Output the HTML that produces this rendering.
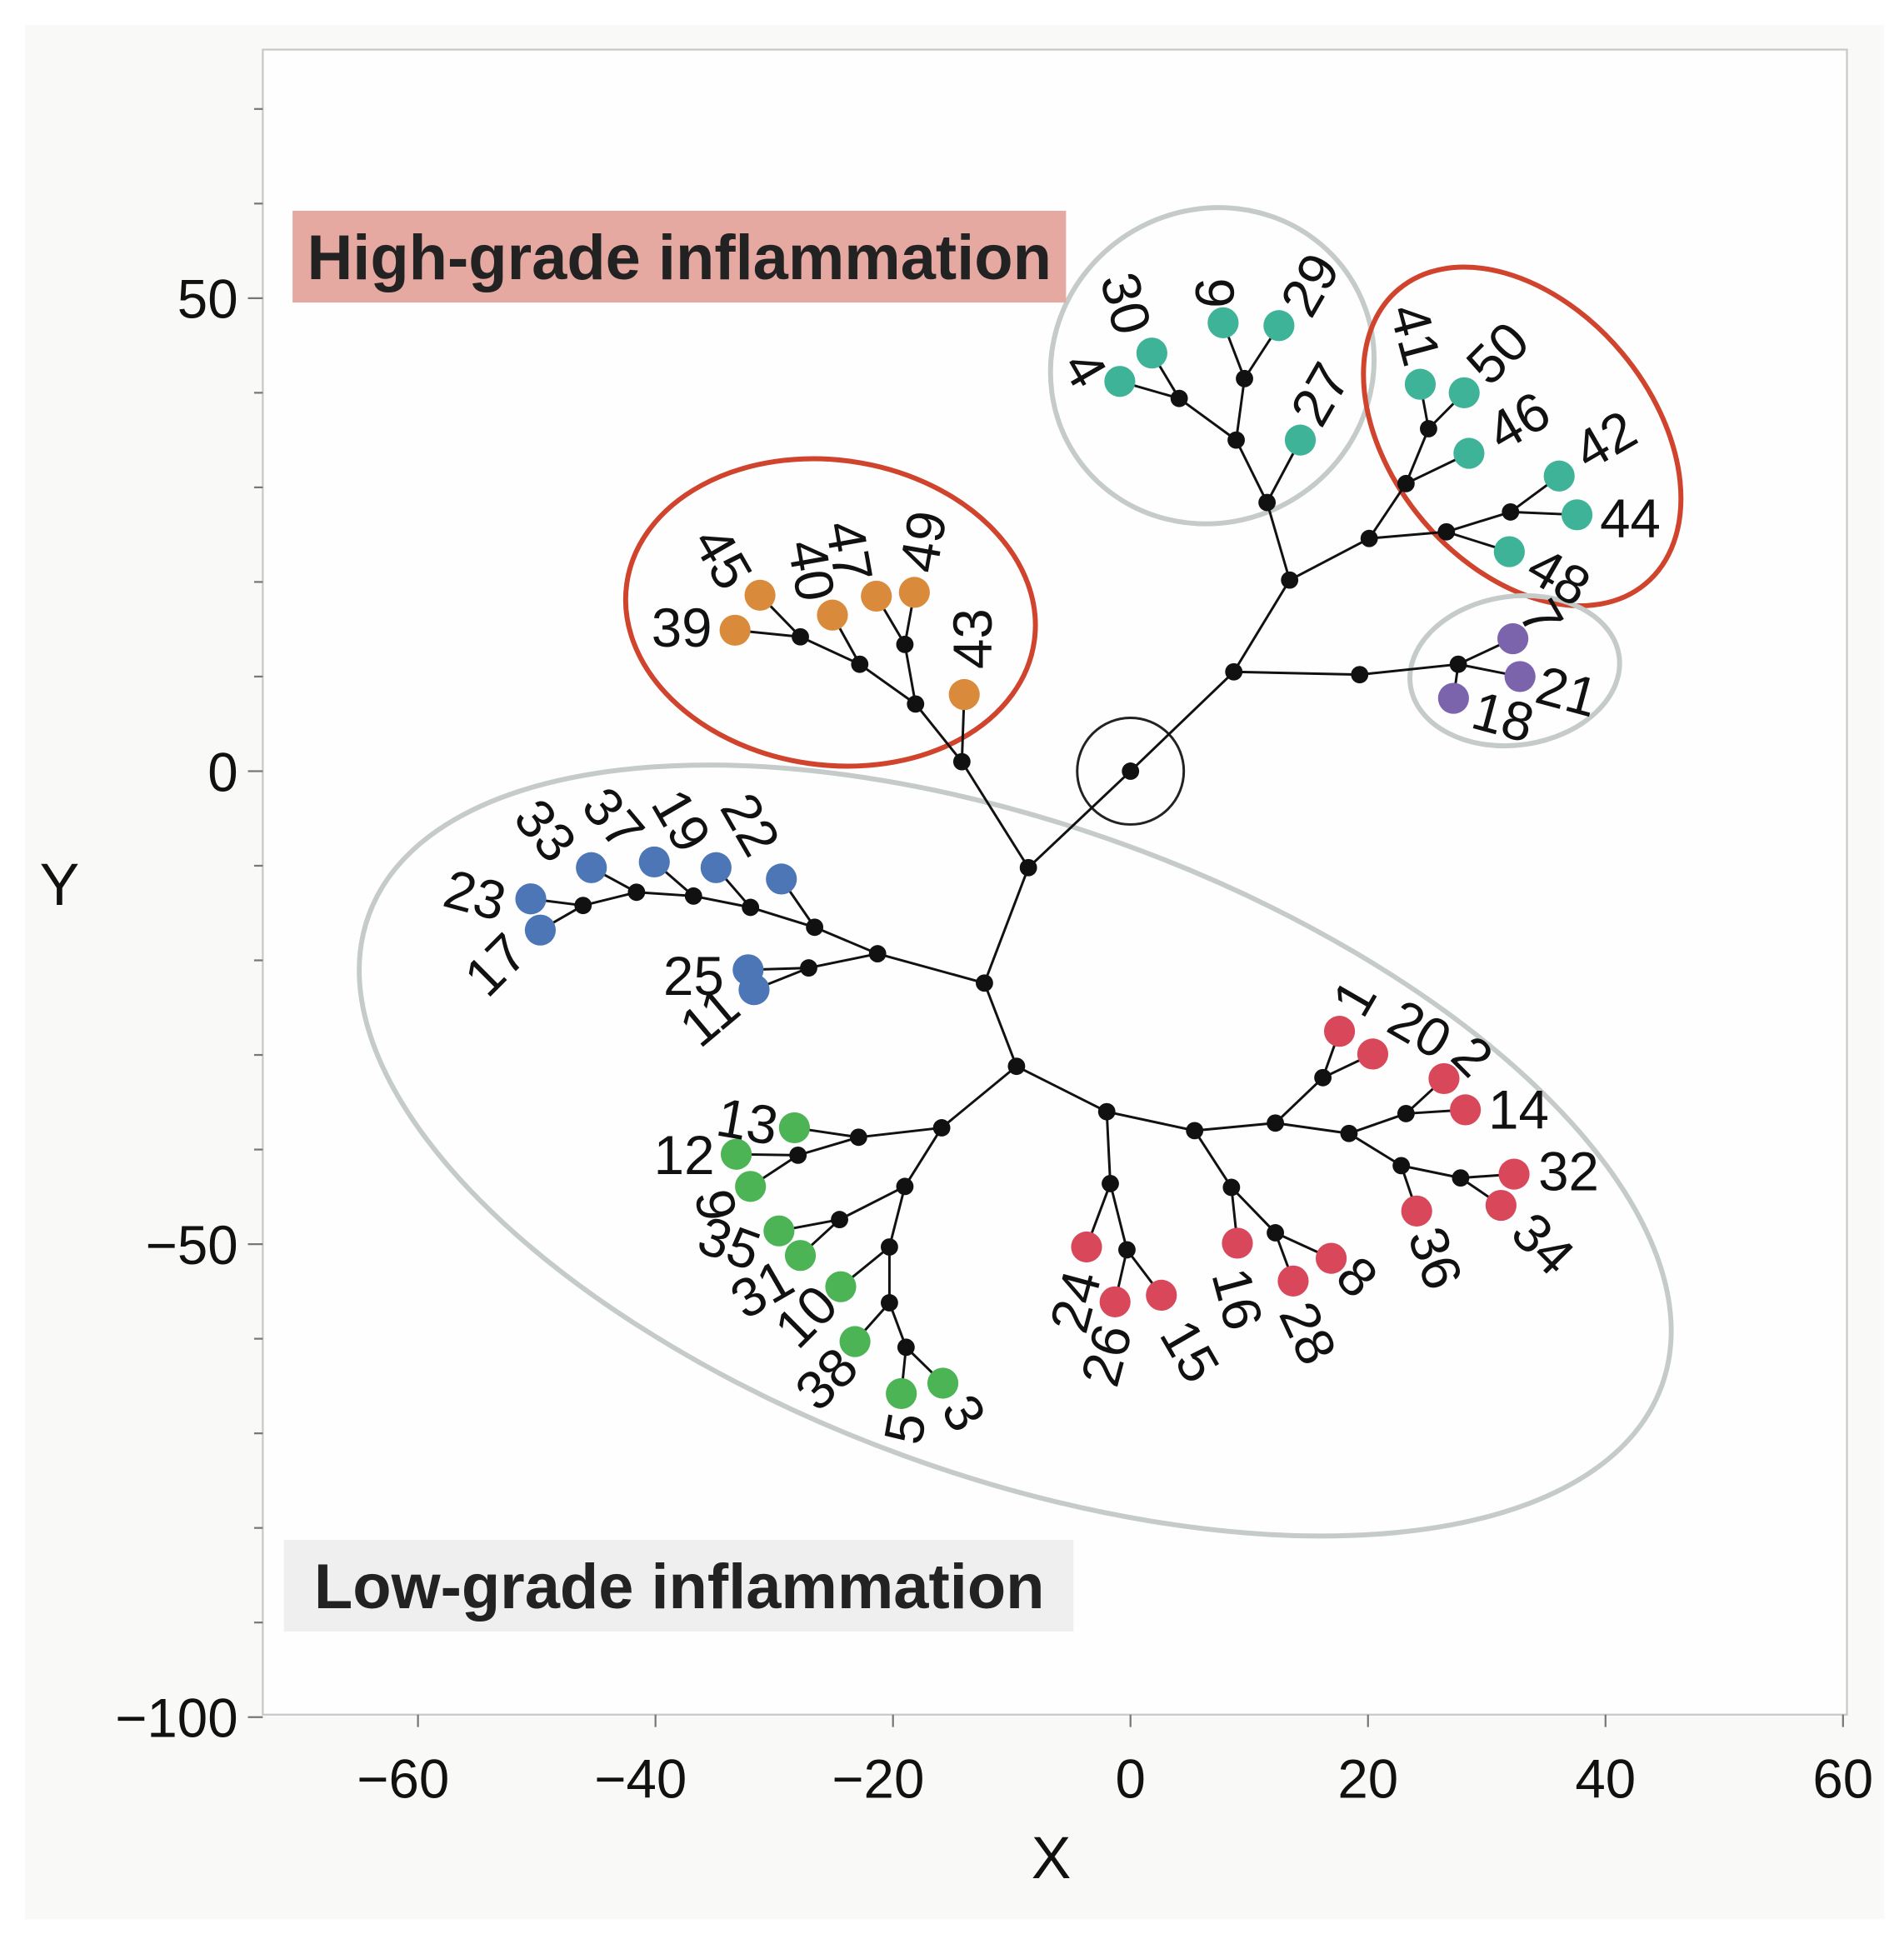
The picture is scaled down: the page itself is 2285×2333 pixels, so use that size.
<!DOCTYPE html>
<html><head><meta charset="utf-8"><style>
html,body{margin:0;padding:0;background:#fff;}
svg{display:block;}
text{font-family:"Liberation Sans",sans-serif;}
</style></head><body>
<svg id="chart" width="2285" height="2333" viewBox="0 0 1536 1568" preserveAspectRatio="none" xmlns="http://www.w3.org/2000/svg">
<rect x="20" y="20" width="1500" height="1528" fill="#f9f9f8"/>
<rect x="212" y="40" width="1278" height="1343" fill="#fefefe" stroke="#c8c8c8" stroke-width="1.5"/>
<g id="ellipses">
<ellipse cx="819" cy="928" rx="555" ry="262" transform="rotate(20 819 928)" fill="none" stroke="#c4cbc8" stroke-width="4"/>
<ellipse cx="670" cy="494" rx="166" ry="123" transform="rotate(8 670 494)" fill="none" stroke="#d0432c" stroke-width="4"/>
<ellipse cx="978" cy="295" rx="132" ry="126" transform="rotate(-30 978 295)" fill="none" stroke="#c4cbc8" stroke-width="4"/>
<ellipse cx="1228" cy="352" rx="155" ry="105" transform="rotate(50 1228 352)" fill="none" stroke="#d0432c" stroke-width="4"/>
<ellipse cx="1222" cy="541" rx="85" ry="60" transform="rotate(-8 1222 541)" fill="none" stroke="#c4cbc8" stroke-width="4"/>
<circle cx="912" cy="622" r="43" fill="none" stroke="#222" stroke-width="2"/>
</g>
<rect x="236" y="170" width="624" height="74" fill="#e5a9a1"/>
<text x="548" y="225" text-anchor="middle" font-size="51" font-weight="bold" fill="#222">High-grade inflammation</text>
<rect x="229" y="1242" width="637" height="74" fill="#efefef"/>
<text x="548" y="1297" text-anchor="middle" font-size="51" font-weight="bold" fill="#222">Low-grade inflammation</text>
<g id="axes"></g>
<g id="edges"></g>
<g id="nodes"></g>
<g id="labels"></g>
</svg>
<script>
const xTicks=[-60,-40,-20,0,20,40,60];
const yTicks=[-100,-50,0,50];
const nodeX=[0,8.7,13.4,19.3,27.6,32.2,32.8,27.2,11.5,20.1,8.9,14.3,4.1,9.6,-0.9,1.8,7.8,12.5,23.2,26.6,25.1,28.5,24.4,28.1,32.0,31.9,36.1,37.6,
-8.6,-14.2,-12.3,-18.1,-14.0,-19.0,-22.8,-21.4,-18.2,-27.8,-25.1,-33.3,-31.2,-21.3,-9.6,-26.6,-27.1,-32.2,-31.7,-29.4,-32.0,-34.9,-36.8,-40.1,-41.6,-45.4,-46.1,-50.5,-49.7,
-15.9,-2.0,-22.9,-19.0,-28.3,-28.0,-33.2,-32.0,-24.5,-20.3,-29.6,-27.8,-24.4,-20.3,-23.2,-18.9,-19.3,-15.8,
-1.7,5.4,-3.7,-0.3,-1.3,2.6,8.5,12.2,9.0,12.2,13.7,16.9,16.2,18.4,17.6,20.4,23.2,22.8,26.4,28.2,24.1,27.8,32.3,31.2];
const nodeY=[0,10.5,20.2,10.2,11.3,14.0,10.0,7.7,28.4,24.6,35.0,35.0,39.4,41.5,41.2,44.2,47.4,47.1,30.4,25.3,36.2,33.6,40.9,40.0,27.4,23.2,31.2,27.1,
-10.2,1.0,-22.4,7.1,8.1,13.4,11.3,18.5,18.9,14.2,16.5,14.9,18.6,-19.3,-31.2,-16.5,-20.8,-21.0,-23.1,-11.4,-14.4,-10.2,-13.2,-9.6,-12.8,-10.2,-14.2,-13.5,-16.8,
-37.7,-36.0,-38.7,-43.9,-37.7,-40.6,-40.5,-43.9,-47.4,-50.3,-48.6,-51.2,-54.5,-56.2,-60.3,-60.9,-65.8,-64.7,
-43.6,-38.0,-50.3,-50.6,-56.1,-55.4,-44.0,-37.2,-49.9,-48.8,-53.9,-51.5,-32.4,-38.3,-27.5,-29.9,-36.2,-41.7,-32.5,-35.8,-46.5,-43.0,-42.6,-45.9];
const nodeParent=[-1,0,1,1,3,4,4,4,2,2,8,8,10,10,12,12,13,13,9,9,18,18,20,20,19,19,24,24,
0,28,28,29,29,31,31,33,33,34,34,37,37,30,30,41,41,44,44,43,43,48,48,50,50,52,52,54,54,
42,42,57,57,59,59,62,62,60,60,65,65,66,66,70,70,72,72,
58,58,75,75,78,78,76,76,81,81,84,84,82,82,87,87,88,88,91,91,92,92,96,96];
const nodeGroup=["","","","","","p","p","p","","","","t","","","t","t","t","t","","","","t","t","t","","t","t","t",
"","","","","o","","","o","o","","o","o","o","","","","","b","b","b","","b","","b","","b","","b","b",
"","","","","g","","g","g","","","g","g","g","","g","","g","g",
"","","r","","r","r","","","r","","r","r","","","r","r","","","r","r","r","","r","r"];
const nodeLabel=["","","","","","7","21","18","","","","27","","","4","30","9","29","","","","46","41","50","","48","42","44",
"","","","","43","","","47","49","","40","39","45","","","","","25","11","22","","19","","37","","33","","23","17",
"","","","","13","","12","9","","","35","31","10","","38","","5","3",
"","","24","","26","15","","","16","","28","8","","","1","20","","","2","14","36","","32","34"];
/* label placement styling (pixel offsets / rotation) */
const labelDx=[0,0,0,0,0,23,38,40,0,0,0,16,0,0,-28,-21,-7,25,0,0,0,40,-4,27,0,40,37,43,
0,0,0,0,7,0,0,-22,7,0,-17,-43,-30,0,0,0,0,-44,-36,-25,0,-28,0,-33,0,-37,0,-45,-36,
0,0,0,0,-38,0,-42,-28,0,0,-40,-31,-28,0,-23,0,3,17,
0,0,-9,0,-7,23,0,0,0,0,12,21,0,0,12,38,0,0,23,43,15,0,44,34];
const labelDy=[0,0,0,0,0,-17,12,15,0,0,0,-37,0,0,-10,-40,-24,-33,0,0,0,-26,-40,-32,0,20,-29,3,
0,0,0,0,-45,0,0,-36,-41,0,-36,-2,-30,0,0,0,0,5,22,-44,0,-38,0,-35,0,-30,0,-3,28,
0,0,0,0,-5,0,1,15,0,0,10,27,24,0,30,0,28,24,
0,0,44,0,43,45,0,0,45,0,42,15,0,0,-27,-20,0,0,-18,0,38,0,-2,31];
const labelRot=[0,0,0,0,0,60,15,15,0,0,0,-60,0,0,60,75,90,-60,0,0,0,-30,75,-45,0,30,-30,0,
0,0,0,0,-90,0,0,80,-80,0,80,0,60,0,0,0,0,0,-40,60,0,60,0,50,0,50,0,15,-45,
0,0,0,0,10,0,0,80,0,0,20,-30,-45,0,-45,0,-80,60,
0,0,-75,0,-75,60,0,0,75,0,65,45,0,0,-60,30,0,0,45,0,70,0,0,45];
const colors={t:"#3fb398",p:"#7c64ad",o:"#d98a3a",b:"#4c76b6",g:"#4cb455",r:"#d9475a"};
const NS="http://www.w3.org/2000/svg";
function sx(v){return 912+v*9.58;}
function sy(v){return 622-v*7.63;}
function mk(tag,attrs,parent){const e=document.createElementNS(NS,tag);for(const k in attrs)e.setAttribute(k,attrs[k]);parent.appendChild(e);return e;}
const axes=document.getElementById('axes');
xTicks.forEach(v=>{
  const l=mk('line',{x1:sx(v),x2:sx(v),y1:1383,y2:1393,stroke:'#777','stroke-width':1.5},axes);
  
  
  const t=mk('text',{x:sx(v)-(v<0?12:0),y:1450,'text-anchor':'middle','font-size':44,fill:'#111'},axes);
  t.textContent=(v<0?'\u2212'+(-v):String(v));
  
  
});
for(let v=-100;v<=75;v+=10){
  const major=yTicks.indexOf(v)>=0;
  const l=mk('line',{x1:major?200:205,x2:212,y1:sy(v),y2:sy(v),stroke:'#777','stroke-width':1.5},axes);
  
  
}
yTicks.forEach(v=>{
  const t=mk('text',{x:192,y:sy(v)+16,'text-anchor':'end','font-size':44,fill:'#111'},axes);
  t.textContent=(v<0?'\u2212'+(-v):String(v));
  
  
});
const xt=mk('text',{x:848,y:1515,'text-anchor':'middle','font-size':48,fill:'#111'},axes);
xt.textContent='X';


const yt=mk('text',{x:48,y:730,'text-anchor':'middle','font-size':48,fill:'#111'},axes);
yt.textContent='Y';


const eg=document.getElementById('edges'),ng=document.getElementById('nodes'),lg=document.getElementById('labels');
for(let i=0;i<nodeX.length;i++){
  const p=nodeParent[i];
  if(p>=0){
    const e=mk('line',{x1:sx(nodeX[p]),y1:sy(nodeY[p]),x2:sx(nodeX[i]),y2:sy(nodeY[i]),stroke:'#111','stroke-width':2},eg);
    
    
  }
}
for(let i=0;i<nodeX.length;i++){
  const g=nodeGroup[i];
  const c=mk('circle',{cx:sx(nodeX[i]),cy:sy(nodeY[i]),r:g?12.5:7,fill:g?colors[g]:'#111'},ng);
  
  
  if(nodeLabel[i]){
    const x=sx(nodeX[i])+labelDx[i],y=sy(nodeY[i])+labelDy[i];
    const t=mk('text',{x:x,y:y,'text-anchor':'middle','dominant-baseline':'central','font-size':44,fill:'#111',transform:'rotate('+labelRot[i]+' '+x+' '+y+')'},lg);
    t.textContent=nodeLabel[i];
    
    
  }
}
</script>
</body></html>
